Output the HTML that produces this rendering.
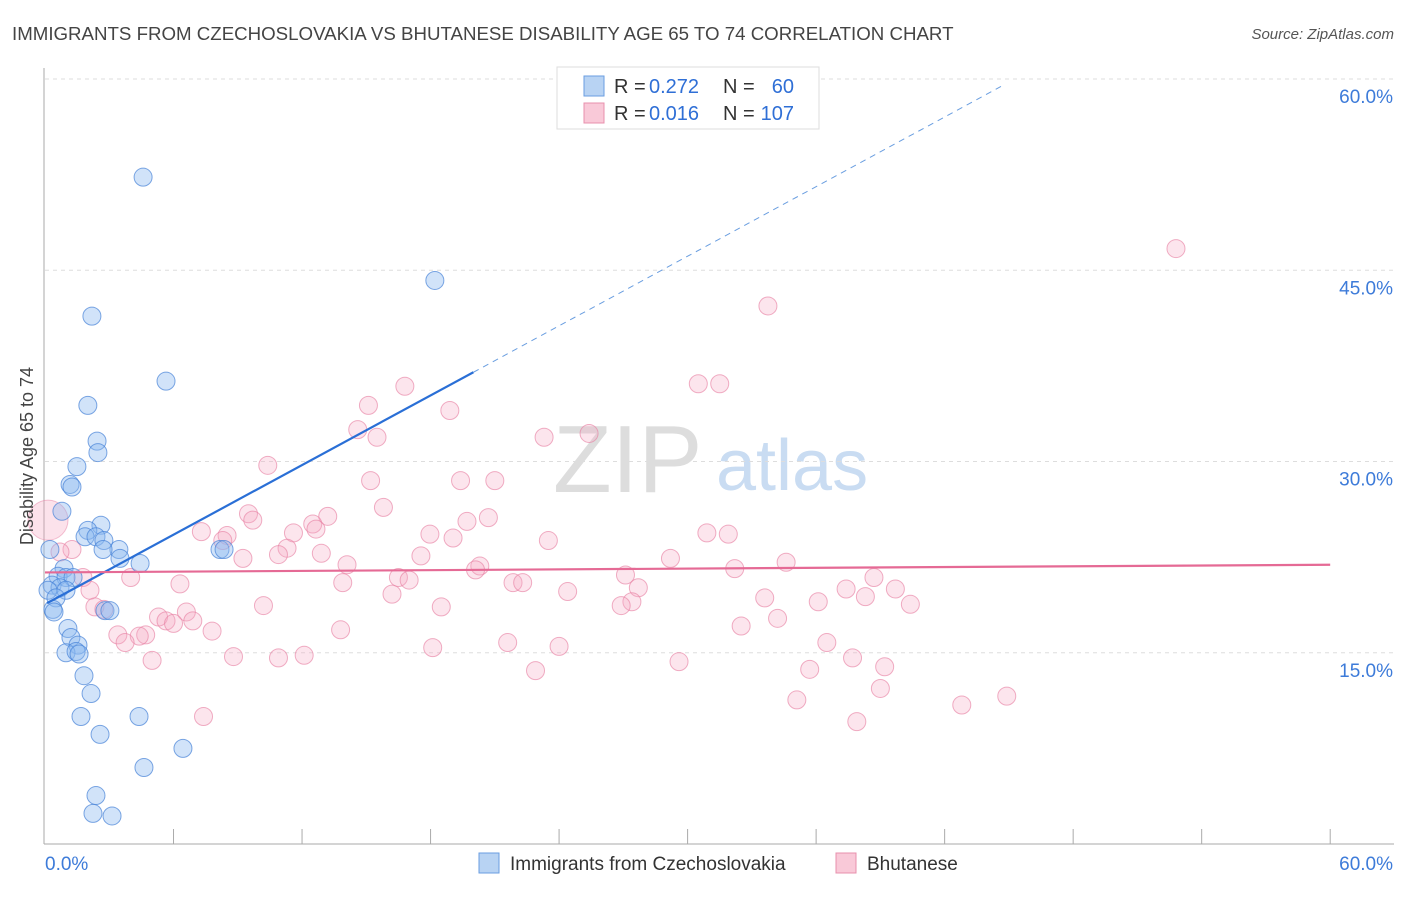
<!DOCTYPE html>
<html><head><meta charset="utf-8"><style>
body{margin:0;background:#fff;font-family:"Liberation Sans",sans-serif}
svg text{font-family:"Liberation Sans",sans-serif}
</style></head><body>
<svg id="chart" width="1406" height="892" xmlns="http://www.w3.org/2000/svg">
<text x="12" y="40" font-size="18.7" fill="#444">IMMIGRANTS FROM CZECHOSLOVAKIA VS BHUTANESE DISABILITY AGE 65 TO 74 CORRELATION CHART</text>
<text x="1394" y="39" font-size="15" fill="#555" font-style="italic" text-anchor="end">Source: ZipAtlas.com</text>
<g>
<text x="553" y="492" font-size="96" fill="#ddd" font-family="Liberation Serif">ZIP</text>
<text x="716" y="490" font-size="72" fill="#c9dcf2">atlas</text>
</g>
<g id="grid"></g><g id="axes"></g><g id="pts"></g><g id="lines"></g>
<text transform="translate(33,456) rotate(-90)" font-size="18" fill="#444" text-anchor="middle">Disability Age 65 to 74</text>
<g>
<rect x="557" y="67" width="262" height="62" fill="#fff" stroke="#ddd"/>
<rect x="584" y="76" width="20" height="20" fill="#b8d3f3" stroke="#6a9ee0"/>
<rect x="584" y="103" width="20" height="20" fill="#f9c9d8" stroke="#e890ad"/>
<text x="614" y="93" font-size="20" fill="#333">R =</text>
<text x="649" y="93" font-size="20" fill="#2f6fd6">0.272</text>
<text x="723" y="93" font-size="20" fill="#333">N =</text>
<text x="794" y="93" font-size="20" fill="#2f6fd6" text-anchor="end">60</text>
<text x="614" y="120" font-size="20" fill="#333">R =</text>
<text x="649" y="120" font-size="20" fill="#2f6fd6">0.016</text>
<text x="723" y="120" font-size="20" fill="#333">N =</text>
<text x="794" y="120" font-size="20" fill="#2f6fd6" text-anchor="end">107</text>
</g>
<g>
<rect x="479" y="853" width="20" height="20" fill="#b8d3f3" stroke="#6a9ee0"/>
<text x="510" y="870" font-size="19" fill="#333">Immigrants from Czechoslovakia</text>
<rect x="836" y="853" width="20" height="20" fill="#f9c9d8" stroke="#e890ad"/>
<text x="867" y="870" font-size="19" fill="#333">Bhutanese</text>
</g>
</svg>
<script>
const xTicks=[6,12,18,24,30,36,42,48,54,60];
const yTicks=[15,30,45,60];
const blueX=[4.58,18.2,2.19,5.65,2.0,2.43,2.47,1.49,1.17,1.26,0.79,2.61,2.0,1.87,2.38,2.75,3.45,2.71,8.17,8.36,3.5,4.44,0.23,0.89,0.61,0.98,1.31,0.33,0.7,0.14,0.98,0.51,0.37,0.42,2.8,3.03,1.07,1.21,1.54,0.98,1.45,1.59,1.82,2.15,1.68,4.39,2.57,6.44,4.62,2.38,2.24,3.13];
const blueY=[52.3,44.2,41.4,36.3,34.4,31.6,30.7,29.6,28.2,28.0,26.1,25.0,24.6,24.1,24.1,23.8,23.1,23.1,23.1,23.1,22.4,22.0,23.1,21.6,21.0,20.9,20.9,20.3,20.1,19.9,19.9,19.3,18.4,18.2,18.3,18.3,16.9,16.2,15.6,15.0,15.1,14.9,13.2,11.8,10.0,10.0,8.6,7.5,6.0,3.8,2.4,2.2];
const pinkX=[52.8,33.75,16.8,30.5,31.5,15.1,18.9,14.6,15.5,25.4,23.3,10.4,15.2,19.4,21.0,15.8,9.5,9.7,13.2,20.7,19.7,12.5,12.65,7.3,11.6,17.97,19.05,8.5,30.9,31.9,8.3,23.5,1.26,0.7,11.3,12.9,10.9,9.24,17.55,29.2,34.6,14.1,20.3,20.1,32.2,27.1,38.7,1.77,4.0,16.5,17.0,13.9,21.85,22.3,6.3,27.7,37.4,39.7,2.1,24.4,16.2,38.3,33.6,27.4,36.1,26.9,10.2,18.5,40.4,2.33,2.75,6.6,5.3,34.2,5.65,6.9,6.0,32.5,7.8,13.8,3.4,4.7,4.4,3.74,21.6,36.5,24.0,18.1,12.1,10.9,8.8,5.0,37.7,29.6,35.7,39.2,22.9,39.0,44.9,35.1,42.8,7.4,37.9];
const pinkY=[46.7,42.2,35.9,36.1,36.1,34.4,34.0,32.5,31.9,32.2,31.9,29.7,28.5,28.5,28.5,26.4,25.9,25.4,25.7,25.6,25.3,25.1,24.7,24.5,24.4,24.3,24.0,24.2,24.4,24.3,23.8,23.8,23.1,22.9,23.2,22.8,22.7,22.4,22.6,22.4,22.1,21.9,21.8,21.5,21.6,21.1,20.9,20.9,20.9,20.9,20.7,20.5,20.5,20.5,20.4,20.1,20.0,20.0,19.9,19.8,19.6,19.4,19.3,19.0,19.0,18.7,18.7,18.6,18.8,18.6,18.4,18.2,17.8,17.7,17.5,17.5,17.3,17.1,16.7,16.8,16.4,16.4,16.3,15.8,15.8,15.8,15.5,15.4,14.8,14.6,14.7,14.4,14.6,14.3,13.7,13.9,13.6,12.2,11.6,11.3,10.9,10.0,9.6];
const blueTrend=[18.8,0.91];
const pinkTrend=[21.3,0.01];
const X=v=>45+v*21.42, Y=v=>844-v*12.75;
const NS="http://www.w3.org/2000/svg";
function mk(parent,tag,attrs){const e=document.createElementNS(NS,tag);for(const k in attrs)e.setAttribute(k,attrs[k]);document.getElementById(parent).appendChild(e);return e;}
let e;
for(const t of yTicks){
 e=mk('grid','line',{x1:45,x2:1394,y1:Y(t),y2:Y(t),stroke:'#ddd','stroke-dasharray':'4,4'});
 
 
 e=mk('grid','text',{x:1393,y:Y(t)+24,'font-size':19,fill:'#3d7bd9','text-anchor':'end'});e.textContent=t.toFixed(1)+'%';
 
 
}
e=mk('axes','line',{x1:44,x2:44,y1:68,y2:844,stroke:'#aaa'});


e=mk('axes','line',{x1:44,x2:1394,y1:844,y2:844,stroke:'#aaa'});


for(const t of xTicks){
 e=mk('axes','line',{x1:X(t),x2:X(t),y1:829,y2:844,stroke:'#aaa'});
 
 
}
e=mk('axes','text',{x:45,y:870,'font-size':19,fill:'#3d7bd9'});e.textContent='0.0%';


e=mk('axes','text',{x:1393,y:870,'font-size':19,fill:'#3d7bd9','text-anchor':'end'});e.textContent='60.0%';


e=mk('pts','circle',{cx:X(0.14),cy:Y(25.4),r:20,fill:'rgba(244,160,190,0.3)',stroke:'rgba(232,130,165,0.5)'});


pinkX.forEach((x,i)=>{e=mk('pts','circle',{cx:X(x),cy:Y(pinkY[i]),r:9,fill:'rgba(246,170,195,0.3)',stroke:'rgba(232,130,165,0.65)'});
 
 });
blueX.forEach((x,i)=>{e=mk('pts','circle',{cx:X(x),cy:Y(blueY[i]),r:9,fill:'rgba(140,185,240,0.4)',stroke:'rgba(70,130,215,0.7)'});
 
 });
const bl=v=>blueTrend[0]+blueTrend[1]*v;
e=mk('lines','line',{x1:X(0.1),y1:Y(bl(0.1)),x2:X(20),y2:Y(bl(20)),stroke:'#2a6fd6','stroke-width':2.2});


e=mk('lines','line',{x1:X(20),y1:Y(bl(20)),x2:X(44.8),y2:Y(bl(44.8)),stroke:'#6a9ee0','stroke-width':1,'stroke-dasharray':'6,5'});


const pl=v=>pinkTrend[0]+pinkTrend[1]*v;
e=mk('lines','line',{x1:X(0),y1:Y(pl(0)),x2:X(60),y2:Y(pl(60)),stroke:'#e56a95','stroke-width':2.2});


</script>
</body></html>
